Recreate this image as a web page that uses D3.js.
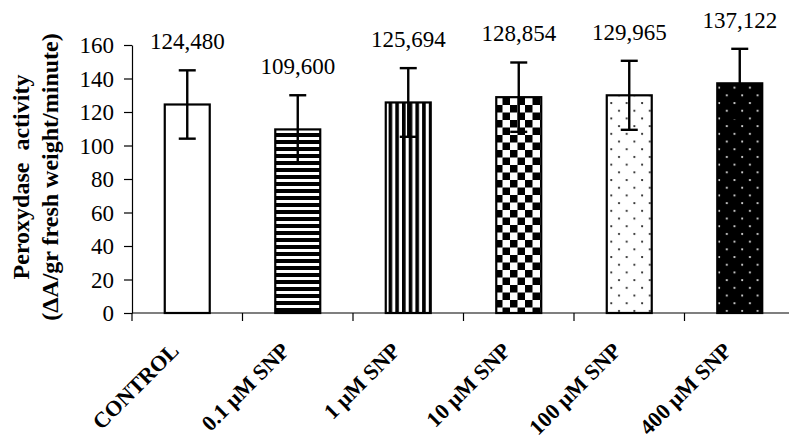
<!DOCTYPE html>
<html>
<head>
<meta charset="utf-8">
<script src="https://cdn.jsdelivr.net/npm/d3@7"></script>
<style>
  body { margin: 0; background: #fff; }
  svg { display: block; }
  text { font-family: "Liberation Serif", "Times New Roman", serif; fill: #000; }
</style>
</head>
<body>
<div id="chart"></div>
<script>
// data
var categories = ['CONTROL', '0.1 \u00b5M SNP', '1 \u00b5M SNP', '10 \u00b5M SNP', '100 \u00b5M SNP', '400 \u00b5M SNP'];
var activity = [124.480, 109.600, 125.694, 128.854, 129.965, 137.122];
var errors = [20.4, 20.4, 20.5, 20.7, 20.6, 20.6];
var yTicks = [0, 20, 40, 60, 80, 100, 120, 140, 160];

var width = 789, height = 444;
var margin = {t: 45, l: 132, b: 131};

var svg = d3.select('#chart').append('svg')
  .attr('width', width)
  .attr('height', height);

// fill patterns, one per bar
var defs = svg.append('defs');

var p = defs.append('pattern').attr('id', 'hstripe')
  .attr('patternUnits', 'userSpaceOnUse').attr('width', 8).attr('height', 7);
p.append('rect').attr('width', 8).attr('height', 7).attr('fill', '#fff');
p.append('rect').attr('width', 8).attr('height', 4).attr('fill', '#000');

p = defs.append('pattern').attr('id', 'vstripe')
  .attr('patternUnits', 'userSpaceOnUse').attr('width', 6.7).attr('height', 8);
p.append('rect').attr('width', 6.7).attr('height', 8).attr('fill', '#fff');
p.append('rect').attr('width', 3.6).attr('height', 8).attr('fill', '#000');

p = defs.append('pattern').attr('id', 'checker')
  .attr('patternUnits', 'userSpaceOnUse').attr('width', 15).attr('height', 15);
p.append('rect').attr('width', 15).attr('height', 15).attr('fill', '#fff');
p.append('rect').attr('width', 7.5).attr('height', 7.5).attr('fill', '#000');
p.append('rect').attr('x', 7.5).attr('y', 7.5).attr('width', 7.5).attr('height', 7.5).attr('fill', '#000');

p = defs.append('pattern').attr('id', 'dotslight')
  .attr('patternUnits', 'userSpaceOnUse').attr('width', 15.4).attr('height', 15.4);
p.append('rect').attr('width', 15.4).attr('height', 15.4).attr('fill', '#fff');
p.append('circle').attr('cx', 3).attr('cy', 3).attr('r', 1.1).attr('fill', '#222');
p.append('circle').attr('cx', 10.7).attr('cy', 10.7).attr('r', 1.1).attr('fill', '#222');

p = defs.append('pattern').attr('id', 'dotsdark')
  .attr('patternUnits', 'userSpaceOnUse').attr('width', 15.4).attr('height', 15.4);
p.append('rect').attr('width', 15.4).attr('height', 15.4).attr('fill', '#000');
p.append('circle').attr('cx', 3).attr('cy', 3).attr('r', 1.1).attr('fill', '#ddd');
p.append('circle').attr('cx', 10.7).attr('cy', 10.7).attr('r', 1.1).attr('fill', '#ddd');

var fills = ['#fff', 'url(#hstripe)', 'url(#vstripe)', 'url(#checker)', 'url(#dotslight)', 'url(#dotsdark)'];

// scales
var x = d3.scaleBand().domain(categories)
  .range([margin.l, 795])
  .paddingInner(0.593)
  .paddingOuter(0.2965);
var y = d3.scaleLinear().domain([0, 160]).range([height - margin.b, margin.t]);
var y0 = y(0);
var gap = (x.step() - x.bandwidth()) / 2;

// y axis
var yAxis = svg.append('g')
  .attr('transform', 'translate(' + margin.l + ',0)')
  .call(d3.axisLeft(y).tickValues(yTicks).tickSize(8).tickSizeOuter(0).tickPadding(10));
yAxis.select('.domain').attr('stroke', '#000').attr('stroke-width', 1.2);
yAxis.selectAll('.tick line').attr('stroke', '#000').attr('stroke-width', 1.2);
yAxis.selectAll('.tick text')
  .style('font-size', '23px')
  .attr('font-family', null)
  .attr('dy', '0.34em');

// x axis: labels under the bars, ticks between the bars
var xAxis = svg.append('g')
  .attr('transform', 'translate(0,' + y0 + ')')
  .call(d3.axisBottom(x).tickSize(0).tickSizeOuter(0));
xAxis.select('.domain').remove();
xAxis.selectAll('.tick text')
  .attr('x', 0).attr('y', 0).attr('dy', null)
  .attr('font-family', null)
  .attr('text-anchor', 'end')
  .attr('transform', 'translate(-7,39) rotate(-45)')
  .style('font-size', '22px')
  .style('font-weight', 'bold');

svg.append('line')
  .attr('x1', margin.l).attr('x2', width)
  .attr('y1', y0).attr('y2', y0)
  .attr('stroke', '#000').attr('stroke-width', 1.2);

var bounds = categories.map(function(c) { return x(c) - gap; });
svg.selectAll('.xtick').data(bounds).enter().append('line')
  .attr('class', 'xtick')
  .attr('x1', function(d) { return d; }).attr('x2', function(d) { return d; })
  .attr('y1', y0).attr('y2', y0 + 8)
  .attr('stroke', '#000').attr('stroke-width', 1.2);

// bars
svg.selectAll('.bar').data(categories).enter().append('rect')
  .attr('class', 'bar')
  .attr('x', function(d) { return x(d); })
  .attr('width', x.bandwidth())
  .attr('y', function(d, i) { return y(activity[i]); })
  .attr('height', function(d, i) { return y0 - y(activity[i]); })
  .attr('fill', function(d, i) { return fills[i]; })
  .attr('stroke', '#000')
  .attr('stroke-width', 2.2);

// error bars
var eb = svg.selectAll('.err').data(categories).enter().append('g')
  .attr('class', 'err')
  .attr('transform', function(d) { return 'translate(' + (x(d) + x.bandwidth() / 2) + ',0)'; })
  .attr('stroke', '#000').attr('stroke-width', 2.4);
eb.append('line')
  .attr('y1', function(d, i) { return y(activity[i] - errors[i]); })
  .attr('y2', function(d, i) { return y(activity[i] + errors[i]); });
eb.append('line').attr('x1', -8.5).attr('x2', 8.5)
  .attr('y1', function(d, i) { return y(activity[i] + errors[i]); })
  .attr('y2', function(d, i) { return y(activity[i] + errors[i]); });
eb.append('line').attr('x1', -8.5).attr('x2', 8.5)
  .attr('y1', function(d, i) { return y(activity[i] - errors[i]); })
  .attr('y2', function(d, i) { return y(activity[i] - errors[i]); });

// value labels (decimal comma as in the original)
var fmt = d3.format('.3f');
svg.selectAll('.val').data(categories).enter().append('text')
  .attr('class', 'val')
  .attr('x', function(d) { return x(d) + x.bandwidth() / 2; })
  .attr('y', function(d, i) { return y(activity[i] + errors[i]) - 21; })
  .attr('text-anchor', 'middle')
  .style('font-size', '23px')
  .text(function(d, i) { return fmt(activity[i]).replace('.', ','); });

// y title, two lines
var title = svg.append('text')
  .attr('transform', 'translate(0,177) rotate(-90)')
  .attr('text-anchor', 'middle')
  .style('font-size', '24px')
  .style('font-weight', 'bold')
  .style('white-space', 'pre');
title.append('tspan').attr('x', 0).attr('y', 29).text('Peroxydase  activity');
title.append('tspan').attr('x', 0).attr('y', 58).text('(\u0394A/gr fresh weight/minute)');
</script>
</body>
</html>
